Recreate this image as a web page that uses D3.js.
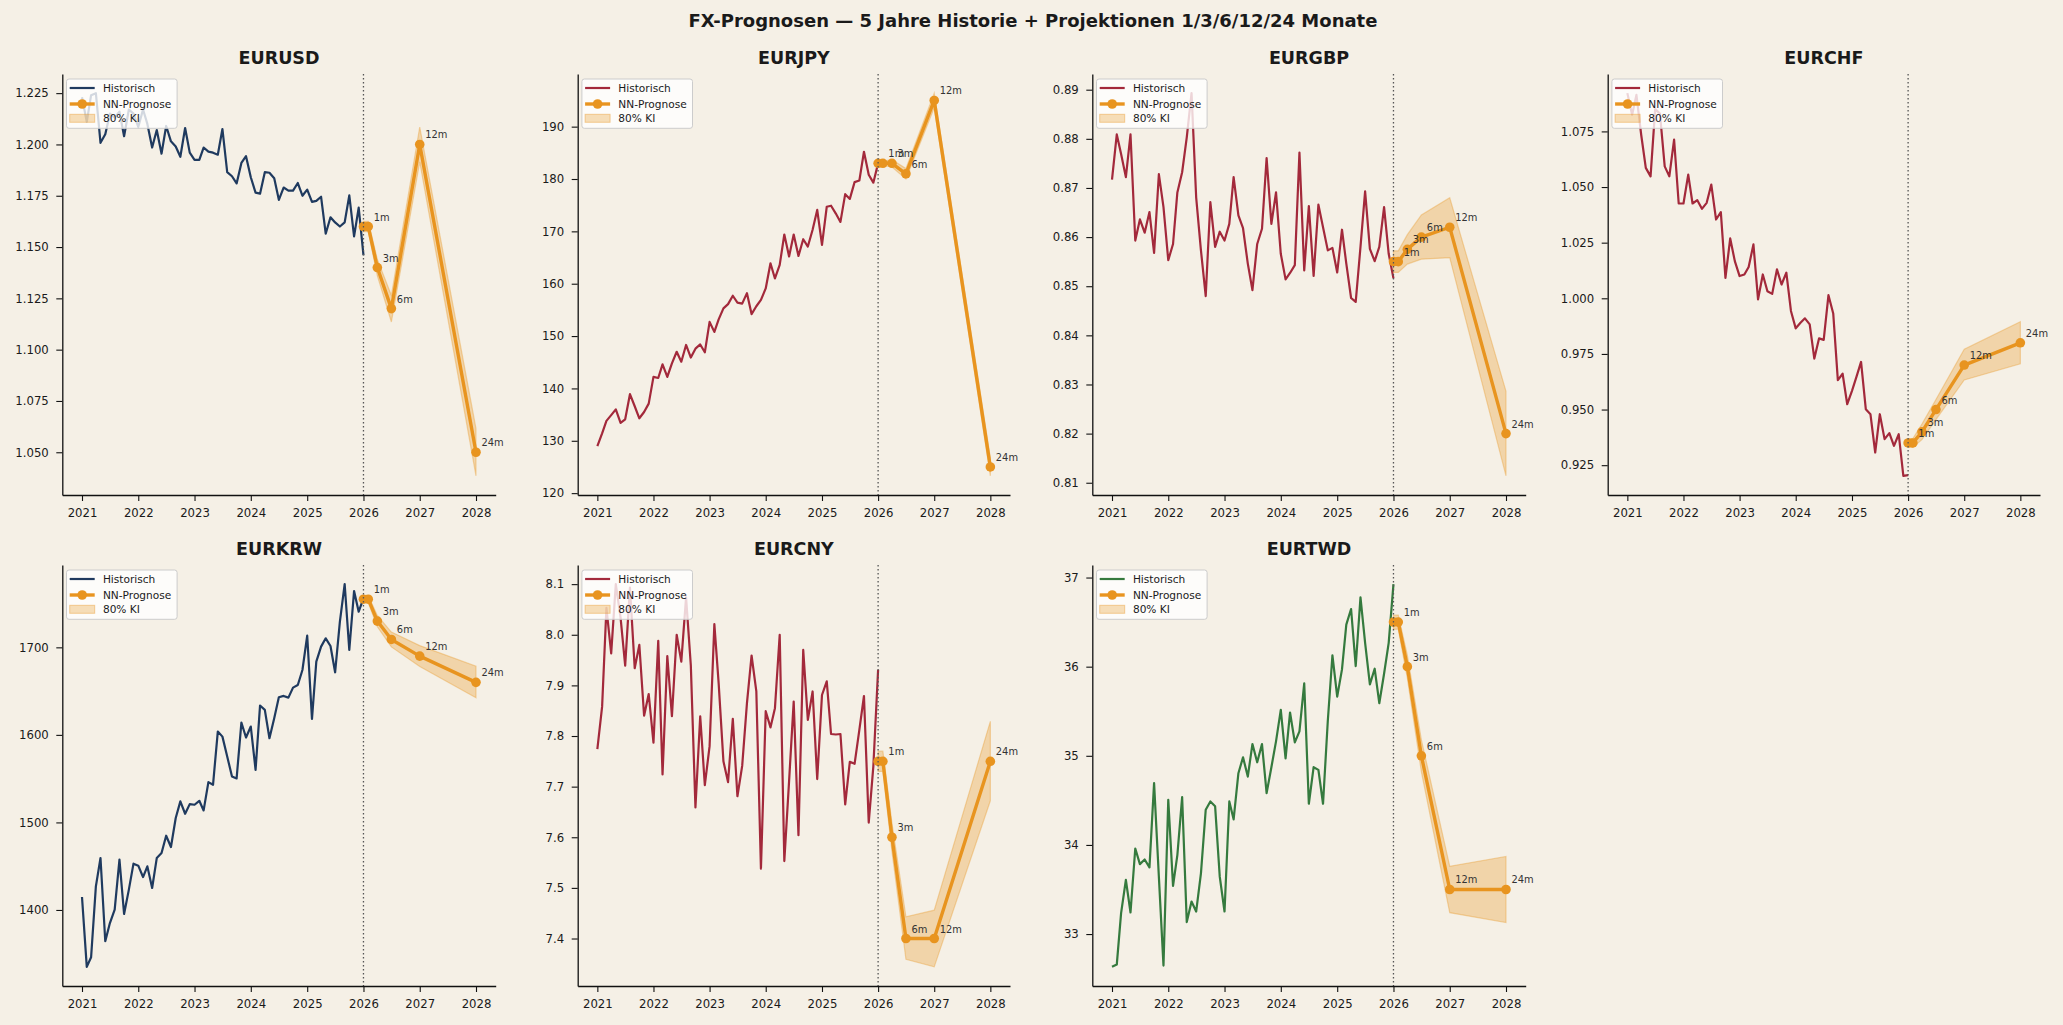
<!DOCTYPE html>
<html><head><meta charset="utf-8">
<script src="https://cdn.jsdelivr.net/npm/d3@7"></script>
<style>body{margin:0;background:#f5f0e6;} svg{display:block;}</style>
</head><body><svg id="c" width="2063" height="1025"></svg>
<script>
// ---------------- DATA ----------------
const pairs = ["EURUSD","EURJPY","EURGBP","EURCHF","EURKRW","EURCNY","EURTWD"];
const horizonMonths = [0,1,3,6,12,24];
const horizonLabels = ["","1m","3m","6m","12m","24m"];
const yearTicks = [2021,2022,2023,2024,2025,2026,2027,2028];

const histEURUSD = [1.223,1.211,1.224,1.225,1.2008,1.205,1.215,1.213,1.216,1.204,1.217,1.215,1.2085,1.217,1.210,1.1985,1.207,1.1955,1.209,1.2015,1.199,1.194,1.208,1.196,1.1925,1.1925,1.1985,1.1965,1.196,1.195,1.2075,1.1865,1.1845,1.181,1.191,1.1943,1.184,1.1765,1.176,1.1865,1.1862,1.1835,1.173,1.179,1.1775,1.1775,1.1812,1.175,1.178,1.172,1.1725,1.1745,1.1565,1.1645,1.162,1.160,1.162,1.1752,1.1552,1.1692,1.146];
const histEURJPY = [129.0,131.4,133.8,134.9,136.0,133.4,134.1,138.9,136.6,134.3,135.5,137.1,142.2,142.0,144.6,142.2,144.8,147.0,145.1,148.3,145.9,147.6,148.4,146.9,152.7,150.8,153.2,155.3,156.1,157.7,156.4,156.2,158.2,154.2,155.7,156.9,159.1,163.9,161.0,163.6,169.4,165.2,169.4,165.3,168.5,167.1,170.3,174.1,167.4,174.7,174.9,173.4,171.8,177.1,176.2,179.4,179.7,185.2,180.8,179.3,183.0];
const histEURGBP = [0.8717,0.8809,0.8769,0.8722,0.8809,0.8593,0.8636,0.8609,0.8651,0.8568,0.8728,0.8661,0.8553,0.8586,0.8691,0.8732,0.8803,0.8893,0.8681,0.8573,0.848,0.8671,0.858,0.8611,0.8593,0.8627,0.8722,0.8644,0.8618,0.8546,0.8492,0.8586,0.8617,0.8761,0.8627,0.8691,0.8566,0.8514,0.8527,0.8543,0.8772,0.8532,0.8663,0.8521,0.8666,0.862,0.8573,0.8578,0.8528,0.8615,0.8546,0.8476,0.8468,0.858,0.8693,0.8576,0.8551,0.858,0.8661,0.8566,0.8516];
const histEURCHF = [1.0922,1.0825,1.0914,1.0735,1.0586,1.0548,1.085,1.083,1.0593,1.0548,1.0713,1.0426,1.0426,1.0556,1.0426,1.0441,1.0402,1.0429,1.0511,1.0354,1.0387,1.0092,1.0269,1.0167,1.01,1.0107,1.0141,1.0242,0.9995,1.0107,1.0032,1.002,1.013,1.0062,1.0115,0.9943,0.9865,0.989,0.991,0.9883,0.9729,0.982,0.9813,1.0014,0.9932,0.9632,0.9661,0.9524,0.9584,0.9651,0.9714,0.9501,0.9479,0.9307,0.9479,0.9367,0.9394,0.9337,0.9389,0.9202,0.9205];
const histEURKRW = [1414.8,1335,1346,1427,1459.3,1364.3,1385,1400.4,1457.4,1395.4,1423.2,1452.9,1450.6,1437.6,1449.8,1425.1,1459.3,1465,1484.8,1471.9,1505,1524,1509.9,1520.9,1520.2,1524.7,1513.7,1546,1543,1603.8,1598,1575.3,1552.5,1550.2,1614.1,1597,1609.5,1560.1,1633.5,1628.5,1596.2,1619,1643,1644.5,1642.6,1654,1657,1674.1,1713.3,1618.3,1683.7,1700.8,1710.3,1701.5,1671.5,1729.3,1772.2,1697,1764.3,1740.7,1755.9];
const histEURCNY = [7.774,7.858,8.053,7.963,8.1,8.034,7.939,8.093,7.934,7.98,7.84,7.883,7.787,7.988,7.724,7.958,7.839,8.0,7.947,8.074,7.939,7.659,7.839,7.703,7.78,8.021,7.904,7.75,7.709,7.834,7.681,7.741,7.865,7.959,7.888,7.538,7.849,7.817,7.855,8.0,7.553,7.711,7.868,7.604,7.97,7.832,7.888,7.715,7.881,7.908,7.804,7.803,7.804,7.665,7.749,7.745,7.812,7.879,7.629,7.74,7.931];
const histEURTWD = [32.632,32.658,33.234,33.607,33.242,33.96,33.785,33.837,33.748,34.693,33.644,32.647,34.507,33.54,33.886,34.537,33.134,33.365,33.253,33.681,34.395,34.488,34.433,33.644,33.253,34.488,34.287,34.805,34.983,34.767,35.132,34.927,35.132,34.581,34.872,35.162,35.515,34.972,35.486,35.151,35.274,35.813,34.462,34.872,34.842,34.462,35.393,36.126,35.664,35.969,36.472,36.647,36.007,36.777,36.267,35.802,35.977,35.590,35.921,36.267,36.926];

// forecasts: [t0, 1m, 3m, 6m, 12m, 24m]
const fcEURUSD = [1.160,1.160,1.140,1.120,1.200,1.050];
const loEURUSD = [1.1575,1.1575,1.136,1.1135,1.1915,1.0385];
const hiEURUSD = [1.1625,1.1625,1.144,1.1265,1.2085,1.0615];
const fcEURJPY = [183,183,183,181,195,125];
const loEURJPY = [182.6,182.6,182.3,180.0,193.6,123.3];
const hiEURJPY = [183.4,183.4,183.7,182.0,196.4,126.7];
const fcEURGBP = [0.855,0.855,0.8575,0.860,0.862,0.820];
const loEURGBP = [0.8528,0.8528,0.8545,0.8555,0.8558,0.8114];
const hiEURGBP = [0.8572,0.8572,0.8605,0.8645,0.868,0.8286];
const fcEURCHF = [0.935,0.935,0.940,0.950,0.970,0.980];
const loEURCHF = [0.933,0.933,0.9365,0.9455,0.9633,0.9706];
const hiEURCHF = [0.937,0.937,0.9435,0.9545,0.9771,0.9895];
const fcEURKRW = [1755,1755,1730,1709,1690,1660];
const loEURKRW = [1751,1751,1723.5,1700.5,1678,1642.5];
const hiEURKRW = [1759,1759,1736.5,1717.5,1702,1678.5];
const fcEURCNY = [7.75,7.75,7.60,7.40,7.40,7.75];
const loEURCNY = [7.73,7.73,7.572,7.359,7.344,7.672];
const hiEURCNY = [7.77,7.77,7.628,7.443,7.456,7.829];
const fcEURTWD = [36.5,36.5,36.0,35.0,33.5,33.5];
const loEURTWD = [36.42,36.42,35.87,34.82,33.24,33.13];
const hiEURTWD = [36.58,36.58,36.13,35.18,33.76,33.87];

const ticksEURUSD = [1.050,1.075,1.100,1.125,1.150,1.175,1.200,1.225];
const ticksEURJPY = [120,130,140,150,160,170,180,190];
const ticksEURGBP = [0.81,0.82,0.83,0.84,0.85,0.86,0.87,0.88,0.89];
const ticksEURCHF = [0.925,0.950,0.975,1.000,1.025,1.050,1.075];
const ticksEURKRW = [1400,1500,1600,1700];
const ticksEURCNY = [7.4,7.5,7.6,7.7,7.8,7.9,8.0,8.1];
const ticksEURTWD = [33,34,35,36,37];

const titleText = "FX-Prognosen — 5 Jahre Historie + Projektionen 1/3/6/12/24 Monate";
const legendLabels = ["Historisch","NN-Prognose","80% KI"];

// ---------------- STYLE / LAYOUT ----------------
const NAVY="#1f3a5f", RED="#a3293b", GREEN="#357a3e", ORANGE="#e8941f";
const FONT="DejaVu Sans";
const TXT="#1a1a1a";
const panels = [
  {pair:"EURUSD",hist:histEURUSD,fc:fcEURUSD,lo:loEURUSD,hi:hiEURUSD,ticks:ticksEURUSD,fmt:".3f",color:NAVY, box:[62.3,74,433.4,421]},
  {pair:"EURJPY",hist:histEURJPY,fc:fcEURJPY,lo:loEURJPY,hi:hiEURJPY,ticks:ticksEURJPY,fmt:"d",color:RED, box:[577.7,74,432.3,421]},
  {pair:"EURGBP",hist:histEURGBP,fc:fcEURGBP,lo:loEURGBP,hi:hiEURGBP,ticks:ticksEURGBP,fmt:".2f",color:RED, box:[1092.3,74,433.4,421]},
  {pair:"EURCHF",hist:histEURCHF,fc:fcEURCHF,lo:loEURCHF,hi:hiEURCHF,ticks:ticksEURCHF,fmt:".3f",color:RED, box:[1607.7,74,432.3,421]},
  {pair:"EURKRW",hist:histEURKRW,fc:fcEURKRW,lo:loEURKRW,hi:hiEURKRW,ticks:ticksEURKRW,fmt:"d",color:NAVY, box:[62.3,565,433.4,421]},
  {pair:"EURCNY",hist:histEURCNY,fc:fcEURCNY,lo:loEURCNY,hi:hiEURCNY,ticks:ticksEURCNY,fmt:".1f",color:RED, box:[577.7,565,432.3,421]},
  {pair:"EURTWD",hist:histEURTWD,fc:fcEURTWD,lo:loEURTWD,hi:hiEURTWD,ticks:ticksEURTWD,fmt:"d",color:GREEN, box:[1092.3,565,433.4,421]}
];

const svg = d3.select("#c");
svg.append("rect").attr("width",2063).attr("height",1025).attr("fill","#f5f0e6");
svg.append("text").attr("x",1033).attr("y",27.3).attr("text-anchor","middle")
  .attr("font-family",FONT).attr("font-weight","bold").attr("font-size",18).attr("fill",TXT).text(titleText);

const histDates = d3.timeMonth.range(new Date(2021,0,1), new Date(2026,1,1));
const t0 = new Date(2026,0,1);
const fcDates = horizonMonths.map(m => d3.timeMonth.offset(t0, m));
const xStart = new Date(yearTicks[0],0,1), xEnd = new Date(yearTicks[yearTicks.length-1],0,1);
const span = xEnd - xStart;

panels.forEach(p => {
  const [x0,y0,w,h] = p.box;
  const g = svg.append("g").attr("transform",`translate(${x0},${y0})`);
  const x = d3.scaleTime().domain([new Date(+xStart - 0.05*span), new Date(+xEnd + 0.05*span)]).range([0,w]);
  const all = p.hist.concat(p.lo, p.hi);
  const [mn,mx] = d3.extent(all);
  const pad = 0.05*(mx-mn);
  const y = d3.scaleLinear().domain([mn-pad, mx+pad]).range([h,0]);

  // title
  svg.append("text").attr("x",x0+w/2).attr("y",y0-9.7).attr("text-anchor","middle")
    .attr("font-family",FONT).attr("font-weight","bold").attr("font-size",17.5).attr("fill",TXT).text(p.pair);

  // historical line
  const hd = p.hist.map((v,i)=>({d:histDates[i],v}));
  g.append("path").datum(hd).attr("fill","none").attr("stroke",p.color).attr("stroke-width",2.2)
    .attr("stroke-linejoin","round")
    .attr("d", d3.line().x(d=>x(d.d)).y(d=>y(d.v)));

  // CI band
  const fd = p.fc.map((v,i)=>({d:fcDates[i],v,lo:p.lo[i],hi:p.hi[i],lab:horizonLabels[i]}));
  g.append("path").datum(fd).attr("fill",ORANGE).attr("fill-opacity",0.3)
    .attr("stroke",ORANGE).attr("stroke-opacity",0.35).attr("stroke-width",1.2)
    .attr("d", d3.area().x(d=>x(d.d)).y0(d=>y(d.lo)).y1(d=>y(d.hi)));

  // forecast line
  g.append("path").datum(fd).attr("fill","none").attr("stroke",ORANGE).attr("stroke-width",3.4)
    .attr("stroke-linejoin","round")
    .attr("d", d3.line().x(d=>x(d.d)).y(d=>y(d.v)));
  g.selectAll("circle.fc").data(fd).enter().append("circle")
    .attr("cx",d=>x(d.d)).attr("cy",d=>y(d.v)).attr("r",4.8).attr("fill",ORANGE);

  // vertical dotted line
  g.append("line").attr("x1",x(t0)).attr("x2",x(t0)).attr("y1",0).attr("y2",h)
    .attr("stroke","#555").attr("stroke-width",1.3).attr("stroke-dasharray","1.4,2.6");

  // labels
  g.selectAll("text.lab").data(fd.filter(d=>d.lab)).enter().append("text")
    .attr("x",d=>x(d.d)+5.5).attr("y",d=>y(d.v)-6)
    .attr("font-family",FONT).attr("font-size",9.9).attr("fill","#333").text(d=>d.lab);

  // axes
  const xa = g.append("g").attr("transform",`translate(0,${h})`)
    .call(d3.axisBottom(x).tickValues(yearTicks.map(yr=>new Date(yr,0,1))).tickFormat(d3.timeFormat("%Y"))
      .tickSize(6).tickSizeOuter(0).tickPadding(7.7));
  const ya = g.append("g")
    .call(d3.axisLeft(y).tickValues(p.ticks).tickFormat(d3.format(p.fmt)).tickSize(6).tickSizeOuter(0).tickPadding(7.5));
  [xa,ya].forEach(a=>{
    a.attr("font-family",FONT).attr("font-size",11.7).attr("color","#111");
    a.select(".domain").attr("stroke-width",1.3);
    a.selectAll(".tick line").attr("stroke-width",1.1);
    a.selectAll(".tick text").attr("fill",TXT);
  });

  // legend
  const lg = g.append("g").attr("transform","translate(4.2,5)");
  lg.append("rect").attr("width",110.6).attr("height",49.3).attr("rx",2.5)
    .attr("fill","#fff").attr("fill-opacity",0.8).attr("stroke","#cccccc").attr("stroke-width",1);
  const rowsY=[9,25,39.3];
  lg.append("line").attr("x1",3.2).attr("x2",28.2).attr("y1",rowsY[0]).attr("y2",rowsY[0]).attr("stroke",p.color).attr("stroke-width",2.2);
  lg.append("line").attr("x1",3.2).attr("x2",28.2).attr("y1",rowsY[1]).attr("y2",rowsY[1]).attr("stroke",ORANGE).attr("stroke-width",3.4);
  lg.append("circle").attr("cx",15.7).attr("cy",rowsY[1]).attr("r",4.8).attr("fill",ORANGE);
  lg.append("rect").attr("x",3.2).attr("y",rowsY[2]-4).attr("width",25).attr("height",8)
    .attr("fill",ORANGE).attr("fill-opacity",0.3).attr("stroke",ORANGE).attr("stroke-opacity",0.4).attr("stroke-width",1);
  legendLabels.forEach((t,i)=>{
    lg.append("text").attr("x",36.4).attr("y",rowsY[i]).attr("dy","0.36em")
      .attr("font-family",FONT).attr("font-size",10.6).attr("fill",TXT).text(t);
  });
});
</script></body></html>
